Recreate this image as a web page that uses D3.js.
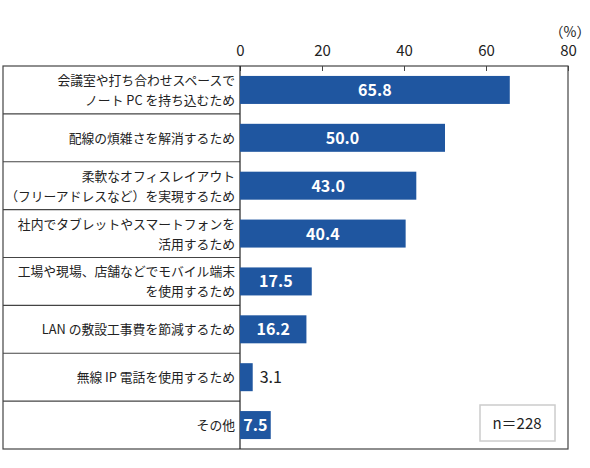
<!DOCTYPE html><html><head><meta charset="utf-8">
<script src="https://cdn.jsdelivr.net/npm/d3@7"></script>
<style>body{margin:0;background:#fff}</style></head><body><svg id="c" width="590" height="468"></svg>
<script>
const categories=[["会議室や打ち合わせスペースで","ノート PC を持ち込むため"],["配線の煩雑さを解消するため"],["柔軟なオフィスレイアウト","（フリーアドレスなど）を実現するため"],["社内でタブレットやスマートフォンを","活用するため"],["工場や現場、店舗などでモバイル端末","を使用するため"],["LAN の敷設工事費を節減するため"],["無線 IP 電話を使用するため"],["その他"]];
const values=[65.8,50.0,43.0,40.4,17.5,16.2,3.1,7.5];
const ticks=[0,20,40,60,80];
const svg=d3.select("#c"),F="'Noto Sans CJK JP',sans-serif";
const L=240,R=568,T=66,B=449,LX=3;
const x=d3.scaleLinear().domain([0,80]).range([L,R]);
const y=d3.scaleBand().domain(d3.range(values.length)).range([T,B]);
svg.append("rect").attr("x",LX).attr("y",T).attr("width",R-LX).attr("height",B-T).attr("fill","none").attr("stroke","#444").attr("stroke-width",1.2);
svg.selectAll(".rl").data(d3.range(1,values.length)).join("line").attr("x1",LX).attr("x2",L).attr("y1",d=>y(d)).attr("y2",d=>y(d)).attr("stroke","#444").attr("stroke-width",1.2);
const ax=svg.append("g").attr("transform",`translate(0,${T})`).call(d3.axisTop(x).tickValues(ticks).tickSize(-5).tickPadding(10));
ax.select(".domain").remove();
ax.selectAll("line").attr("stroke","#444");
ax.selectAll("text").attr("font-family",F).attr("font-size",15).attr("fill","#222");
svg.append("text").attr("x",R+2).attr("y",37).attr("text-anchor","middle").attr("font-family",F).attr("font-size",14).attr("fill","#222").text("（%）");
svg.append("line").attr("x1",L).attr("x2",L).attr("y1",T).attr("y2",B).attr("stroke","#222").attr("stroke-width",1.2);
const bh=28;
svg.selectAll(".bar").data(values).join("rect").attr("x",L).attr("y",(d,i)=>y(i)+(y.bandwidth()-bh)/2).attr("width",d=>x(d)-L).attr("height",bh).attr("fill","#1f56a0");
svg.selectAll(".v").data(values).join("text").attr("x",d=>d<5?x(d)+7:(L+x(d))/2).attr("y",(d,i)=>y(i)+y.bandwidth()/2+6).attr("text-anchor",d=>d<5?"start":"middle").attr("font-family",F).attr("font-size",16).attr("font-weight",d=>d<5?"normal":"bold").attr("fill",d=>d<5?"#222":"#fff").text(d=>d.toFixed(1));
categories.forEach((c,i)=>{const t=svg.append("text").attr("text-anchor","end").attr("font-family",F).attr("font-size",12.8).attr("fill","#222");
const cy=y(i)+y.bandwidth()/2;c.forEach((s,j)=>t.append("tspan").attr("x",L-5).attr("y",cy+5+(j-(c.length-1)/2)*20).text(s));});
svg.append("rect").attr("x",480).attr("y",405).attr("width",75).attr("height",36).attr("fill","#fff").attr("stroke","#ccc").attr("stroke-width",1.5);
svg.append("text").attr("x",517).attr("y",429).attr("text-anchor","middle").attr("font-family",F).attr("font-size",15).attr("fill","#222").text("n＝228");
</script></body></html>
